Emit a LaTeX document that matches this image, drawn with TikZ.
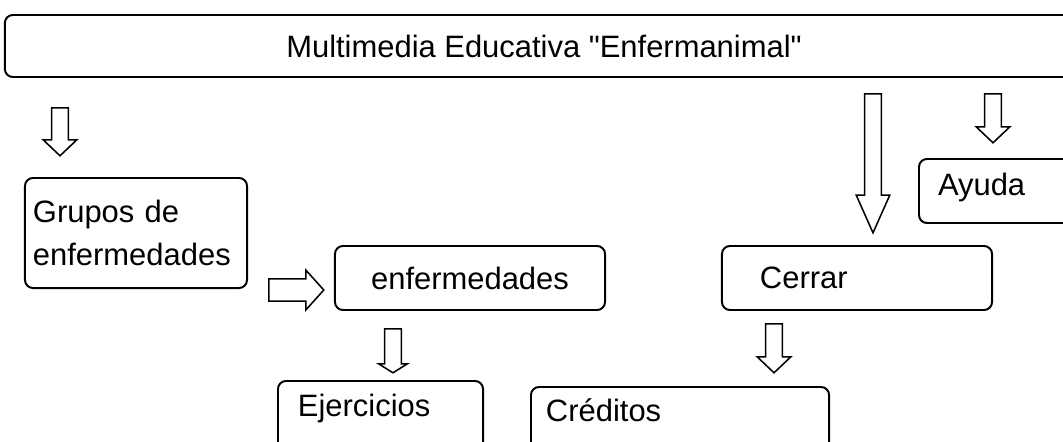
\documentclass[tikz,border=0pt]{standalone}
\usepackage{fontspec}
\setmainfont{Liberation Sans}[Ligatures=TeXOff]
\usetikzlibrary{shapes.arrows,positioning}

\tikzset{
  menubox/.style={draw,line width=1.4pt,rounded corners=0.2cm,inner sep=0pt,
    font=\fontsize{22pt}{30pt}\selectfont},
  blockarrow/.style={single arrow,draw,line width=1.1pt,rotate=-90,anchor=tail,
    inner xsep=0pt,inner ysep=0.19cm,single arrow head extend=0.21cm}
}

\begin{document}
\begin{tikzpicture}[x=0.025cm,y=-0.025cm]
        \useasboundingbox (0,0) rectangle (1063,441);
        \clip (0,0) rectangle (1063,441);

        % Title box
        \node[menubox,minimum width=26.95cm,minimum height=1.55cm] (titulo) at (544,46) {Multimedia Educativa "Enfermanimal"};

        % Left side boxes
        \node[menubox,minimum width=5.55cm,minimum height=2.75cm,text width=5.15cm,inner xsep=0.2cm,align=left] (grupos) at (136,233) {Grupos de\\enfermedades};
        \node[menubox,minimum width=6.75cm,minimum height=1.6cm] (enfermedades) at (470,278) {enfermedades};
        \node[menubox,anchor=north west,align=left,text width=4.125cm,inner xsep=0.5cm,inner ysep=0.25cm,text height=0.625cm,text depth=1.5cm] (ejercicios) at (277,380) {Ejercicios};

        % Right side boxes
        \node[menubox,anchor=north west,align=left,text width=6.7cm,inner xsep=0.375cm,inner ysep=0.25cm,text height=0.6cm,text depth=1.5cm] (creditos) at (530,386) {Créditos};
        \node[menubox,minimum height=1.6cm,text width=4.85cm,inner xsep=0.95cm,align=left] (cerrar) at (857,278) {Cerrar};
        \node[menubox,anchor=north west,align=left,text width=5cm,inner xsep=0.475cm,inner ysep=0.25cm,text height=0.675cm,text depth=0.425cm] (ayuda) at (918,158) {Ayuda};

        % Block arrows
        \node[blockarrow,minimum height=1.2cm,single arrow tip angle=93] (toGrupos) at (60,107) {};
        \node[blockarrow,rotate=90,minimum height=1.375cm,inner ysep=0.26cm,single arrow head extend=0.22cm,single arrow tip angle=96] (toEnfermedades) at (268,290) {};
        \node[blockarrow,minimum height=1.1cm,single arrow head extend=0.15cm,single arrow tip angle=116] (toEjercicios) at (393,328) {};
        \node[blockarrow,minimum height=1.225cm,single arrow tip angle=93] (toCreditos) at (774,323) {};
        \node[blockarrow,minimum height=3.475cm,single arrow tip angle=48] (toCerrar) at (873,93) {};
        \node[blockarrow,minimum height=1.225cm,single arrow tip angle=93] (toAyuda) at (993,93) {};

    \end{tikzpicture}
\end{document}
